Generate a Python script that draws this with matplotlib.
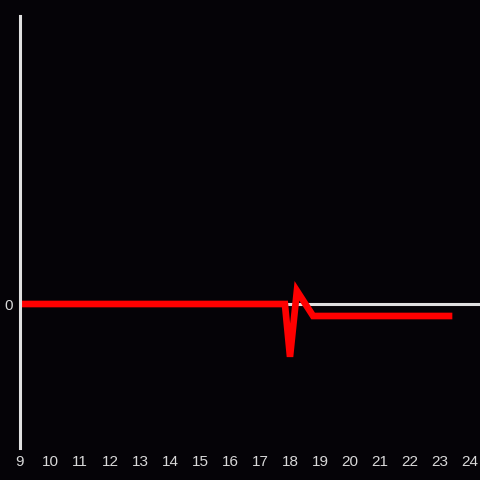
import matplotlib
matplotlib.use("Agg")
import matplotlib.pyplot as plt

# hour of day vs. value
hours = [9.0, 17.83, 18.0, 18.23, 18.77, 23.3]
values = [0.0, 0.0, -4.4, 1.1, -1.0, -1.0]
xticks = list(range(9, 25))

bg = "#050307"
axis_col = "#e0e0e0"
text_col = "#d8d8d8"

fig = plt.figure(figsize=(4.8, 4.8), dpi=100, facecolor=bg)
ax = fig.add_axes([20 / 480, 32 / 480, 460 / 480, 432 / 480], facecolor=bg)

ax.axhline(0, color=axis_col, lw=2.2, zorder=1)
ax.plot(hours, values, color="#ff0000", lw=4.8, solid_joinstyle="miter", zorder=2)

ax.set_xlim(9, 24 + 10 / 30)
ax.set_ylim(-12, 24)
ax.set_xticks(xticks)
ax.set_xticklabels([str(t) for t in xticks])
ax.set_yticks([0])
ax.set_yticklabels(["0"])

for s in ["top", "right", "bottom"]:
    ax.spines[s].set_visible(False)
ax.spines["left"].set_color(axis_col)
ax.spines["left"].set_linewidth(2.2)

ax.tick_params(length=0, colors=text_col, labelsize=11, pad=5)
for lbl in ax.get_xticklabels() + ax.get_yticklabels():
    lbl.set_family("Liberation Sans")

fig.savefig("out.png", dpi=100, facecolor=bg)
